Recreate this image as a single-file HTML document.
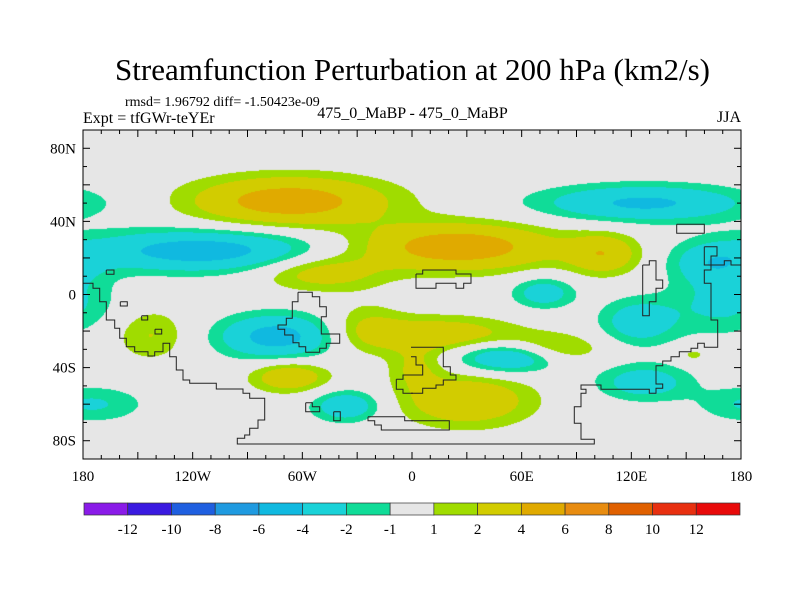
<!DOCTYPE html>
<html><head><meta charset="utf-8"><style>
html,body{margin:0;padding:0;background:#fff;}
body{width:800px;height:600px;position:relative;overflow:hidden;font-family:"Liberation Serif",serif;}
.t{position:absolute;color:#000;white-space:nowrap;font-family:"Liberation Serif",serif;}
</style></head><body>
<div class="t" style="left:0;width:825px;text-align:center;top:52px;font-size:31px;">Streamfunction Perturbation at 200 hPa (km2/s)</div>
<div class="t" style="left:125px;top:95px;font-size:14px;">rmsd= 1.96792 diff= -1.50423e-09</div>
<div class="t" style="left:83px;top:110px;font-size:16px;">Expt = tfGWr-teYEr</div>
<div class="t" style="left:300px;width:225px;text-align:center;top:105px;font-size:16px;">475_0_MaBP - 475_0_MaBP</div>
<div class="t" style="left:700px;width:41px;text-align:right;top:109px;font-size:16px;">JJA</div>
<canvas id="cv" width="658" height="329" style="position:absolute;left:83px;top:130px;"></canvas>
<svg id="sv" width="800" height="600" style="position:absolute;left:0;top:0;"></svg>
<script>
// Blob data (lon, lat, amplitude, lon-spread, lat-spread)
const blobLon = [-67, 25, -50, 105, -115, 165, -74, -143, -67, -36, -175, 170, 127, 72, 124, 54, 127, 15, 30, 75, 154, -25, 2];
const blobLat = [51, 26, 12, 22, 24, 17, -23, -22, -45, -61, -60, -5, 50, 1, -15, -34, -48, -22, -58, -30, -33, -18, -40];
const blobAmp = [5.3, 5.5, 3.0, 3.5, -5.2, -3.0, -5.0, 2.1, 3.6, -3.6, -2.2, -2.4, -4.4, -3.1, -3.2, -5.0, -3.1, 3.4, 3.8, 3.0, 1.5, 1.8, 2.0];
const blobSx = [38, 38, 24, 14, 45, 16, 22, 14, 15, 13, 20, 20, 40, 12, 15, 20, 18, 30, 25, 20, 6, 14, 10];
const blobSy = [9.5, 9, 7, 8, 8, 8, 8.5, 10, 6, 6, 7, 12, 7, 6, 9, 6, 7, 7, 10, 6, 3, 10, 8];
const levels = [-12,-10,-8,-6,-4,-2,-1,1,2,4,6,8,10,12];
const levelLabels = ["-12","-10","-8","-6","-4","-2","-1","1","2","4","6","8","10","12"];
const colors = ["#8a1be8","#3a1ae0","#1f5fe0","#1f9ae0","#10b9e0","#1ad2d8","#10dc98","#e6e6e6","#a0dc00","#d2cc00","#e0aa00","#e88c10","#e06000","#e83010","#e80a0a"];
const xTickLon = [-180,-120,-60,0,60,120,180];
const xTickLab = ["180","120W","60W","0","60E","120E","180"];
const yTickLat = [80,40,0,-40,-80];
const yTickLab = ["80N","40N","0","40S","80S"];

const X0=83,X1=741,Y0=130,Y1=459;
const xs = lon => X0+(lon+180)*(X1-X0)/360;
const ys = lat => Y0+(90-lat)*(Y1-Y0)/180;
function field(lon,lat){
  let v=0;
  for(let i=0;i<blobLon.length;i++){
    let dl=lon-blobLon[i]; dl=((dl+540)%360)-180;
    const dy=lat-blobLat[i];
    v+=blobAmp[i]*Math.exp(-(dl*dl/(2*blobSx[i]*blobSx[i])+dy*dy/(2*blobSy[i]*blobSy[i])));
  }
  return v;
}
function colorFor(v){let k=0;while(k<levels.length&&v>=levels[k])k++;return colors[k];}
const cv=document.getElementById('cv'),ctx=cv.getContext('2d');
const W=cv.width,H=cv.height;
for(let py=0;py<H;py++){for(let px=0;px<W;px++){
  const lon=-180+(px+0.5)*360/W, lat=90-(py+0.5)*180/H;
  ctx.fillStyle=colorFor(field(lon,lat));ctx.fillRect(px,py,1,1);
}}
const NS='http://www.w3.org/2000/svg';
const sv=document.getElementById('sv');
function el(tag,attrs,parent){const e=document.createElementNS(NS,tag);for(const k in attrs)e.setAttribute(k,attrs[k]);(parent||sv).appendChild(e);return e;}
const coastL=[[[0,460],[30,460],[30,475],[50,475],[50,515],[70,515],[70,570],[95,570],[95,595],[110,595],[110,625],[130,625],[130,650],[155,650],[155,665],[195,665],[195,678],[215,678],[215,665],[240,665],[240,640],[260,640],[260,680],[280,680],[280,720],[300,720],[300,750],[320,750],[320,760],[400,760],[400,777],[480,777],[480,790],[500,790],[500,805],[545,805],[545,870],[525,870],[525,895],[500,895],[500,915],[485,915],[485,925],[463,925],[463,942],[990,942]],
[[645,487],[688,487],[688,500],[710,500],[710,530],[730,530],[730,560],[715,560],[715,612],[770,612],[770,640],[730,640],[730,655],[710,655],[710,667],[668,667],[668,650],[648,650],[648,638],[630,638],[630,615],[605,615],[605,598],[585,598],[585,585],[610,585],[610,565],[628,565],[628,515],[645,515],[645,487]],
[[855,860],[965,860],[965,872],[990,872]],[[855,860],[855,872],[875,872],[875,885],[895,885],[895,900],[990,900]],
[[940,748],[960,748],[960,735],[990,735]],[[940,748],[940,778],[960,778],[960,790],[990,790]],
[[70,420],[93,420],[93,433],[70,433],[70,420]],[[112,515],[133,515],[133,528],[112,528],[112,515]],[[176,557],[194,557],[194,570],[176,570],[176,557]],[[216,598],[236,598],[236,612],[216,612],[216,598]],
[[668,818],[688,818],[688,830],[710,830],[710,845],[668,845],[668,818]],[[752,845],[772,845],[772,872],[752,872],[752,845]]];
const coastR=[[[0,942],[550,942],[550,928],[510,928],[510,880],[490,880],[490,830],[510,830],[510,790],[525,790],[525,778],[510,778],[510,765],[570,765],[570,778],[715,778],[715,790],[735,790],[735,775],[755,775],[755,762],[735,762],[735,707],[755,707],[755,693],[780,693],[780,680],[805,680],[805,665],[840,665],[840,655],[860,655],[860,640],[880,640],[880,652],[920,652],[920,570],[900,570],[900,460],[880,460],[880,420],[900,420],[900,405],[940,405],[940,392],[960,392],[960,405],[990,405]],
[[695,405],[715,405],[715,392],[735,392],[735,450],[755,450],[755,475],[735,475],[735,515],[715,515],[715,557],[695,557],[695,405]],
[[797,283],[880,283],[880,310],[797,310],[797,283]],
[[15,432],[35,432],[35,420],[135,420],[135,432],[180,432],[180,460],[158,460],[158,475],[135,475],[135,460],[75,460],[75,475],[15,475],[15,432]],
[[0,652],[97,652],[97,710],[118,710],[118,735],[135,735],[135,750],[97,750],[97,765],[75,765],[75,775],[35,775],[35,790],[0,790]],
[[0,680],[15,680],[15,705],[35,705],[35,735],[0,735]],
[[0,872],[115,872],[115,900],[0,900]],
[[880,350],[918,350],[918,378],[900,378],[900,405],[880,405],[880,350]]];
function drawCoast(list,ox){list.forEach(pts=>{const c=el('polyline',{points:pts.map(p=>(ox+p[0]/3).toFixed(1)+','+(130+p[1]/3).toFixed(1)).join(' '),fill:'none',stroke:'#222','stroke-width':'1'});

});}
drawCoast(coastL,83);drawCoast(coastR,411);
const fr=el('rect',{x:X0,y:Y0,width:X1-X0,height:Y1-Y0,fill:'none',stroke:'#000','stroke-width':'1'});


for(let lon=-180;lon<=180;lon+=10){const x=xs(lon),L=(lon%30===0)?7:4;
  el('line',{x1:x,y1:Y1,x2:x,y2:Y1-L,stroke:'#000'});el('line',{x1:x,y1:Y0,x2:x,y2:Y0+L,stroke:'#000'});}
for(let lat=-90;lat<=90;lat+=10){const y=ys(lat),L=(lat%20===0)?7:4;
  el('line',{x1:X0,y1:y,x2:X0+L,y2:y,stroke:'#000'});el('line',{x1:X1,y1:y,x2:X1-L,y2:y,stroke:'#000'});}
xTickLon.forEach((lon,i)=>{const t=el('text',{x:xs(lon),y:481,'text-anchor':'middle','font-size':'15','font-family':'Liberation Serif, serif'});t.textContent=xTickLab[i];

});
yTickLat.forEach((lat,i)=>{const t=el('text',{x:76,y:ys(lat)+5,'text-anchor':'end','font-size':'15','font-family':'Liberation Serif, serif'});t.textContent=yTickLab[i];

});
const CB0=84,CB1=740,CBy=503,CBh=12,bw=(CB1-CB0)/colors.length;
colors.forEach((c,i)=>{const r=el('rect',{x:CB0+i*bw,y:CBy,width:bw,height:CBh,fill:c,stroke:'#333','stroke-width':'0.7'});

});
levelLabels.forEach((s,i)=>{const t=el('text',{x:CB0+(i+1)*bw,y:534,'text-anchor':'middle','font-size':'15','font-family':'Liberation Serif, serif'});t.textContent=s;

});
</script>
</body></html>
